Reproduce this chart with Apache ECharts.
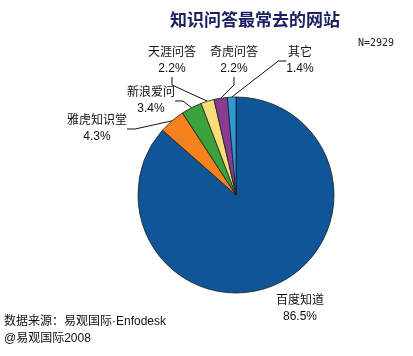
<!DOCTYPE html>
<html><head><meta charset="utf-8">
<script src="https://cdn.jsdelivr.net/npm/echarts@6/dist/echarts.min.js"></script>
<style>html,body{margin:0;padding:0;background:#fff}#c{width:413px;height:356px}</style>
</head><body><div id="c"></div>
<script>
const categories = ['百度知道','雅虎知识堂','新浪爱问','天涯问答','奇虎问答','其它'];
const values = [86.5, 4.3, 3.4, 2.2, 2.2, 1.4];
const colors = ['#0F5699','#F5811F','#3BA33A','#F5DE7A','#8B3A94','#2E9AD6'];
const labelPos = [[300,309],[97,129],[151,101],[172,61],[234,61],[300,61]];

const chart = echarts.init(document.getElementById('c'));
const font = '"Liberation Sans", "Noto Sans CJK SC", sans-serif';
chart.setOption({
  animation: false,
  backgroundColor: '#fff',
  title: {
    text: '知识问答最常去的网站', left: 250, top: 6, textAlign: 'center',
    textStyle: {fontSize: 17, fontWeight: 'bold', color: '#1B2060', fontFamily: '"Noto Sans CJK SC",sans-serif'}
  },
  graphic: [
    {type:'text', left: 358, top: 38, style:{text:'N=2929', font:'10px "DejaVu Sans Mono", monospace', fill:'#222'}},
    {type:'text', left: 4, top: 316, style:{text:'数据来源：易观国际·Enfodesk', font:'12px "Liberation Sans", "Noto Sans CJK SC", sans-serif', fill:'#111'}},
    {type:'text', left: 4, top: 333, style:{text:'@易观国际2008', font:'12px "Liberation Sans", "Noto Sans CJK SC", sans-serif', fill:'#111'}}
  ],
  series: [{
    type: 'pie',
    center: [236, 195],
    radius: [0, 98],
    startAngle: 90,
    clockwise: true,
    data: categories.map((n,i)=>({name:n, value:values[i], itemStyle:{color:colors[i]},
      labelLine:{show: i!==0}})),
    itemStyle: {borderColor: '#1a1a1a', borderWidth: 0.8},
    label: {
      show: true, formatter: '{b}\n{c}%', color: '#111', fontSize: 12,
      fontFamily: font, lineHeight: 16, align: 'center'
    },
    labelLine: {show: true, length: 8, length2: 8, lineStyle: {color: '#111', width: 1}},
    labelLayout: function (p) {
      const pos = labelPos[p.dataIndex];
      return {x: pos[0], y: pos[1], align: 'center', verticalAlign: 'middle'};
    }
  }]
});
</script></body></html>
